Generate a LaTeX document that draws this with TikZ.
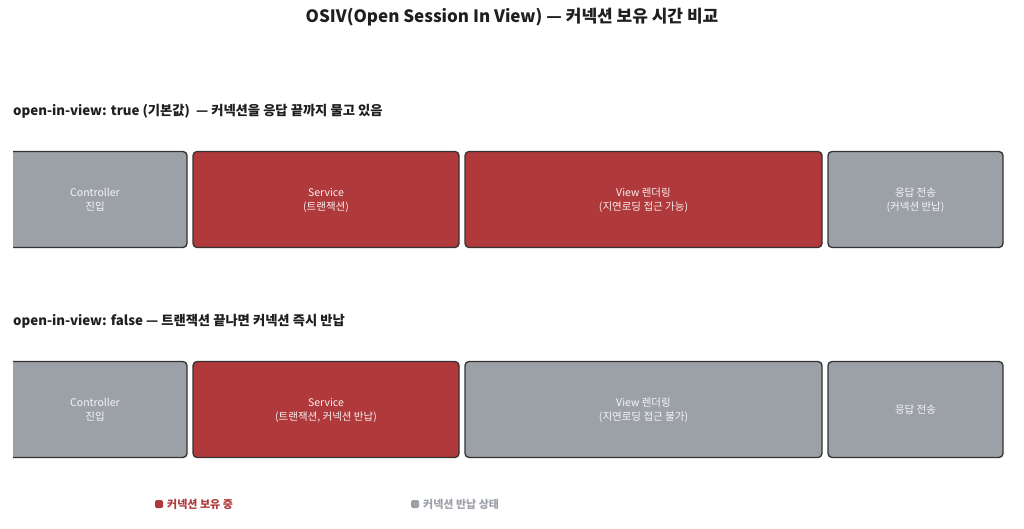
\documentclass[tikz,border=0pt]{standalone}
\usepackage{fontspec}
\setmainfont{Noto Sans CJK KR}
\usetikzlibrary{positioning}
\definecolor{holdred}{HTML}{B0393B}
\definecolor{freegray}{HTML}{9CA0A7}
\definecolor{edgegray}{HTML}{333333}
\definecolor{inkdark}{HTML}{1F1F1F}
\tikzset{ % styles des boites
    stage/.style={draw=edgegray,line width=1.3pt,rounded corners=4pt,
        minimum height=96pt,inner sep=0pt,align=center,text depth=-1.5pt,
        font=\fontsize{10.5}{14}\selectfont},
    held/.style={stage,fill=holdred,text=white!92!holdred},
    released/.style={stage,fill=freegray,text=white!90!freegray},
    rowtitle/.style={anchor=west,text=inkdark,inner sep=0pt,
        font=\fontsize{13.3}{16}\selectfont\bfseries},
    legendtext/.style={anchor=west,inner sep=0pt,
        font=\fontsize{11}{13}\selectfont\bfseries}
}

\begin{document}
\begin{tikzpicture}[x=1pt,y=-1pt]
    \useasboundingbox[fill=white] (0,0) rectangle (1024,529);
    \node (titre) at (512,17) [text=inkdark,font=\fontsize{17}{20}\selectfont\bfseries]
        {OSIV(Open Session In View) — 커넥션 보유 시간 비교};

    % ligne 1 : true
    \node[rowtitle] (trueTitle) at (13,111) {open-in-view: true (기본값) \ — 커넥션을 응답 끝까지 물고 있음};
    \begin{scope}
        \clip (13,140) rectangle (200,470);
        \node[released,minimum width=184pt] (trueCtrl) at (95,199.5) {Controller\\진입};
        \node[released,minimum width=184pt] (falseCtrl) at (95,409.5) {Controller\\진입};
    \end{scope}
    \node[held,minimum width=266pt] (trueSvc) at (326,199.5) {Service\\(트랜잭션)};
    \node[held,minimum width=357pt] (trueView) at (643.5,199.5) {View 렌더링\\(지연로딩 접근 가능)};
    \node[released,minimum width=175pt] (trueResp) at (915.5,199.5) {응답 전송\\(커넥션 반납)};

    % ligne 2 : false
    \node[rowtitle] (falseTitle) at (13,321) {open-in-view: false — 트랜잭션 끝나면 커넥션 즉시 반납};
    \node[held,minimum width=266pt] (falseSvc) at (326,409.5) {Service\\(트랜잭션, 커넥션 반납)};
    \node[released,minimum width=357pt] (falseView) at (643.5,409.5) {View 렌더링\\(지연로딩 접근 불가)};
    \node[released,minimum width=175pt] (falseResp) at (915.5,409.5) {응답 전송};

    % legende
    \fill[holdred,rounded corners=1.5pt] (155,500) rectangle (163,508);
    \node[legendtext,text=holdred] (legHeld) at (167,504) {커넥션 보유 중};
    \fill[freegray,rounded corners=1.5pt] (411,500) rectangle (419,508);
    \node[legendtext,text=freegray] (legFree) at (423,504) {커넥션 반납 상태};
\end{tikzpicture}
\end{document}
